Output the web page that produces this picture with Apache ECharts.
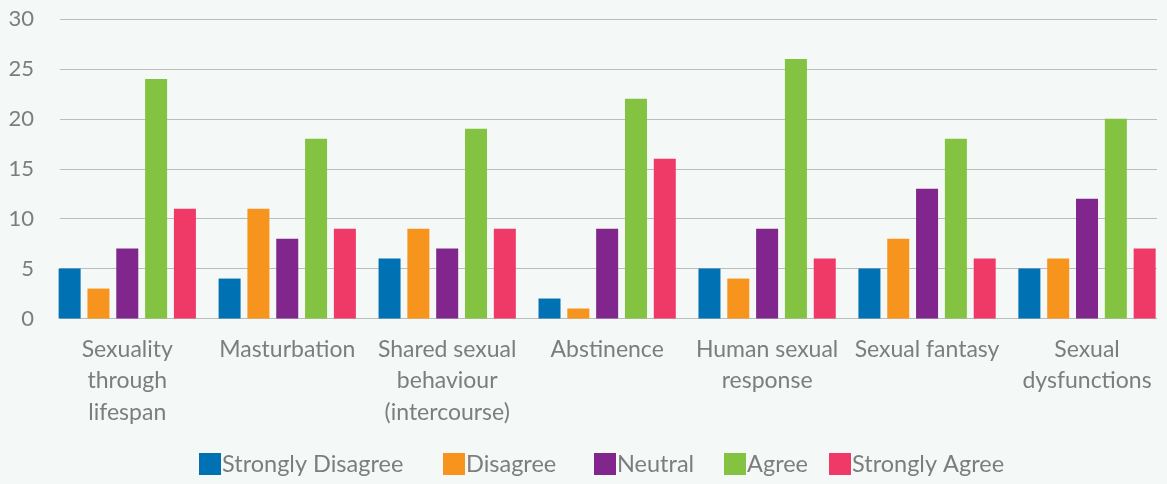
<!DOCTYPE html>
<html>
<head>
<meta charset="utf-8">
<style>
  html, body { margin: 0; padding: 0; background: #f4f8f7; }
  #chart { width: 1167px; height: 484px; }
</style>
<script src="https://cdn.jsdelivr.net/npm/echarts@6/dist/echarts.min.js"></script>
</head>
<body>
<div id="chart"></div>
<script>
// Topic categories (tick labels, with line breaks as shown under the axis)
const categories = [
  'Sexuality\nthrough\nlifespan',
  'Masturbation',
  'Shared sexual\nbehaviour\n(intercourse)',
  'Abstinence',
  'Human sexual\nresponse',
  'Sexual fantasy',
  'Sexual\ndysfunctions'
];

// Number of responses per answer option
const stronglyDisagree = [5, 4, 6, 2, 5, 5, 5];
const disagree         = [3, 11, 9, 1, 4, 8, 6];
const neutral          = [7, 8, 7, 9, 9, 13, 12];
const agree            = [24, 18, 19, 22, 26, 18, 20];
const stronglyAgree    = [11, 9, 9, 16, 6, 6, 7];

const seriesNames  = ['Strongly Disagree', 'Disagree', 'Neutral', 'Agree', 'Strongly Agree'];
const seriesValues = [stronglyDisagree, disagree, neutral, agree, stronglyAgree];
const colors = ['#0071b3', '#f7941e', '#80268d', '#84c341', '#ef3a68'];

const yTicks = { min: 0, max: 30, interval: 5 };

const FONT = 'Lato, "Noto Sans", sans-serif';
const GREY = '#7d7d7d';

const chart = echarts.init(document.getElementById('chart'), null, { renderer: 'canvas' });

// one legend component per entry so each sits at its own slot
const legendLeft = [199, 443, 594, 724, 829];
const legends = seriesNames.map((name, i) => ({
  data: [name],
  left: legendLeft[i],
  top: 452,
  padding: 0,
  itemWidth: 22,
  itemHeight: 22,
  icon: 'rect',
  selectedMode: false,
  textStyle: { fontFamily: FONT, fontSize: 23.5, color: GREY, padding: [0, 0, 0, -4] }
}));

chart.setOption({
  backgroundColor: '#f4f8f7',
  color: colors,
  animation: false,
  legend: legends,
  grid: [
    // value axis & gridlines
    { left: 60, right: 10, top: 19, bottom: 165.5 },
    // bar groups
    { left: 47.3, right: -2.5, top: 19, bottom: 165.5 }
  ],
  xAxis: [
    { type: 'category', gridIndex: 0, data: categories, show: false },
    {
      type: 'category', gridIndex: 1, data: categories,
      axisLine: { show: false }, axisTick: { show: false },
      axisLabel: {
        interval: 0, margin: 15,
        fontFamily: FONT, fontSize: 23, color: GREY, lineHeight: 31.5
      }
    }
  ],
  yAxis: [
    {
      type: 'value', gridIndex: 0, min: yTicks.min, max: yTicks.max, interval: yTicks.interval,
      axisLine: { show: false }, axisTick: { show: false },
      axisLabel: { margin: 26, fontFamily: FONT, fontSize: 22, color: GREY },
      splitLine: { lineStyle: { color: '#bcbcbc', width: 1.2 } }
    },
    {
      type: 'value', gridIndex: 1, min: yTicks.min, max: yTicks.max, interval: yTicks.interval,
      show: false, splitLine: { show: false }
    }
  ],
  series: seriesNames.map((name, i) => ({
    name,
    type: 'bar',
    xAxisIndex: 1,
    yAxisIndex: 1,
    data: seriesValues[i],
    barWidth: 22,
    barGap: '31%',
    itemStyle: { color: colors[i] }
  }))
});
</script>
</body>
</html>
